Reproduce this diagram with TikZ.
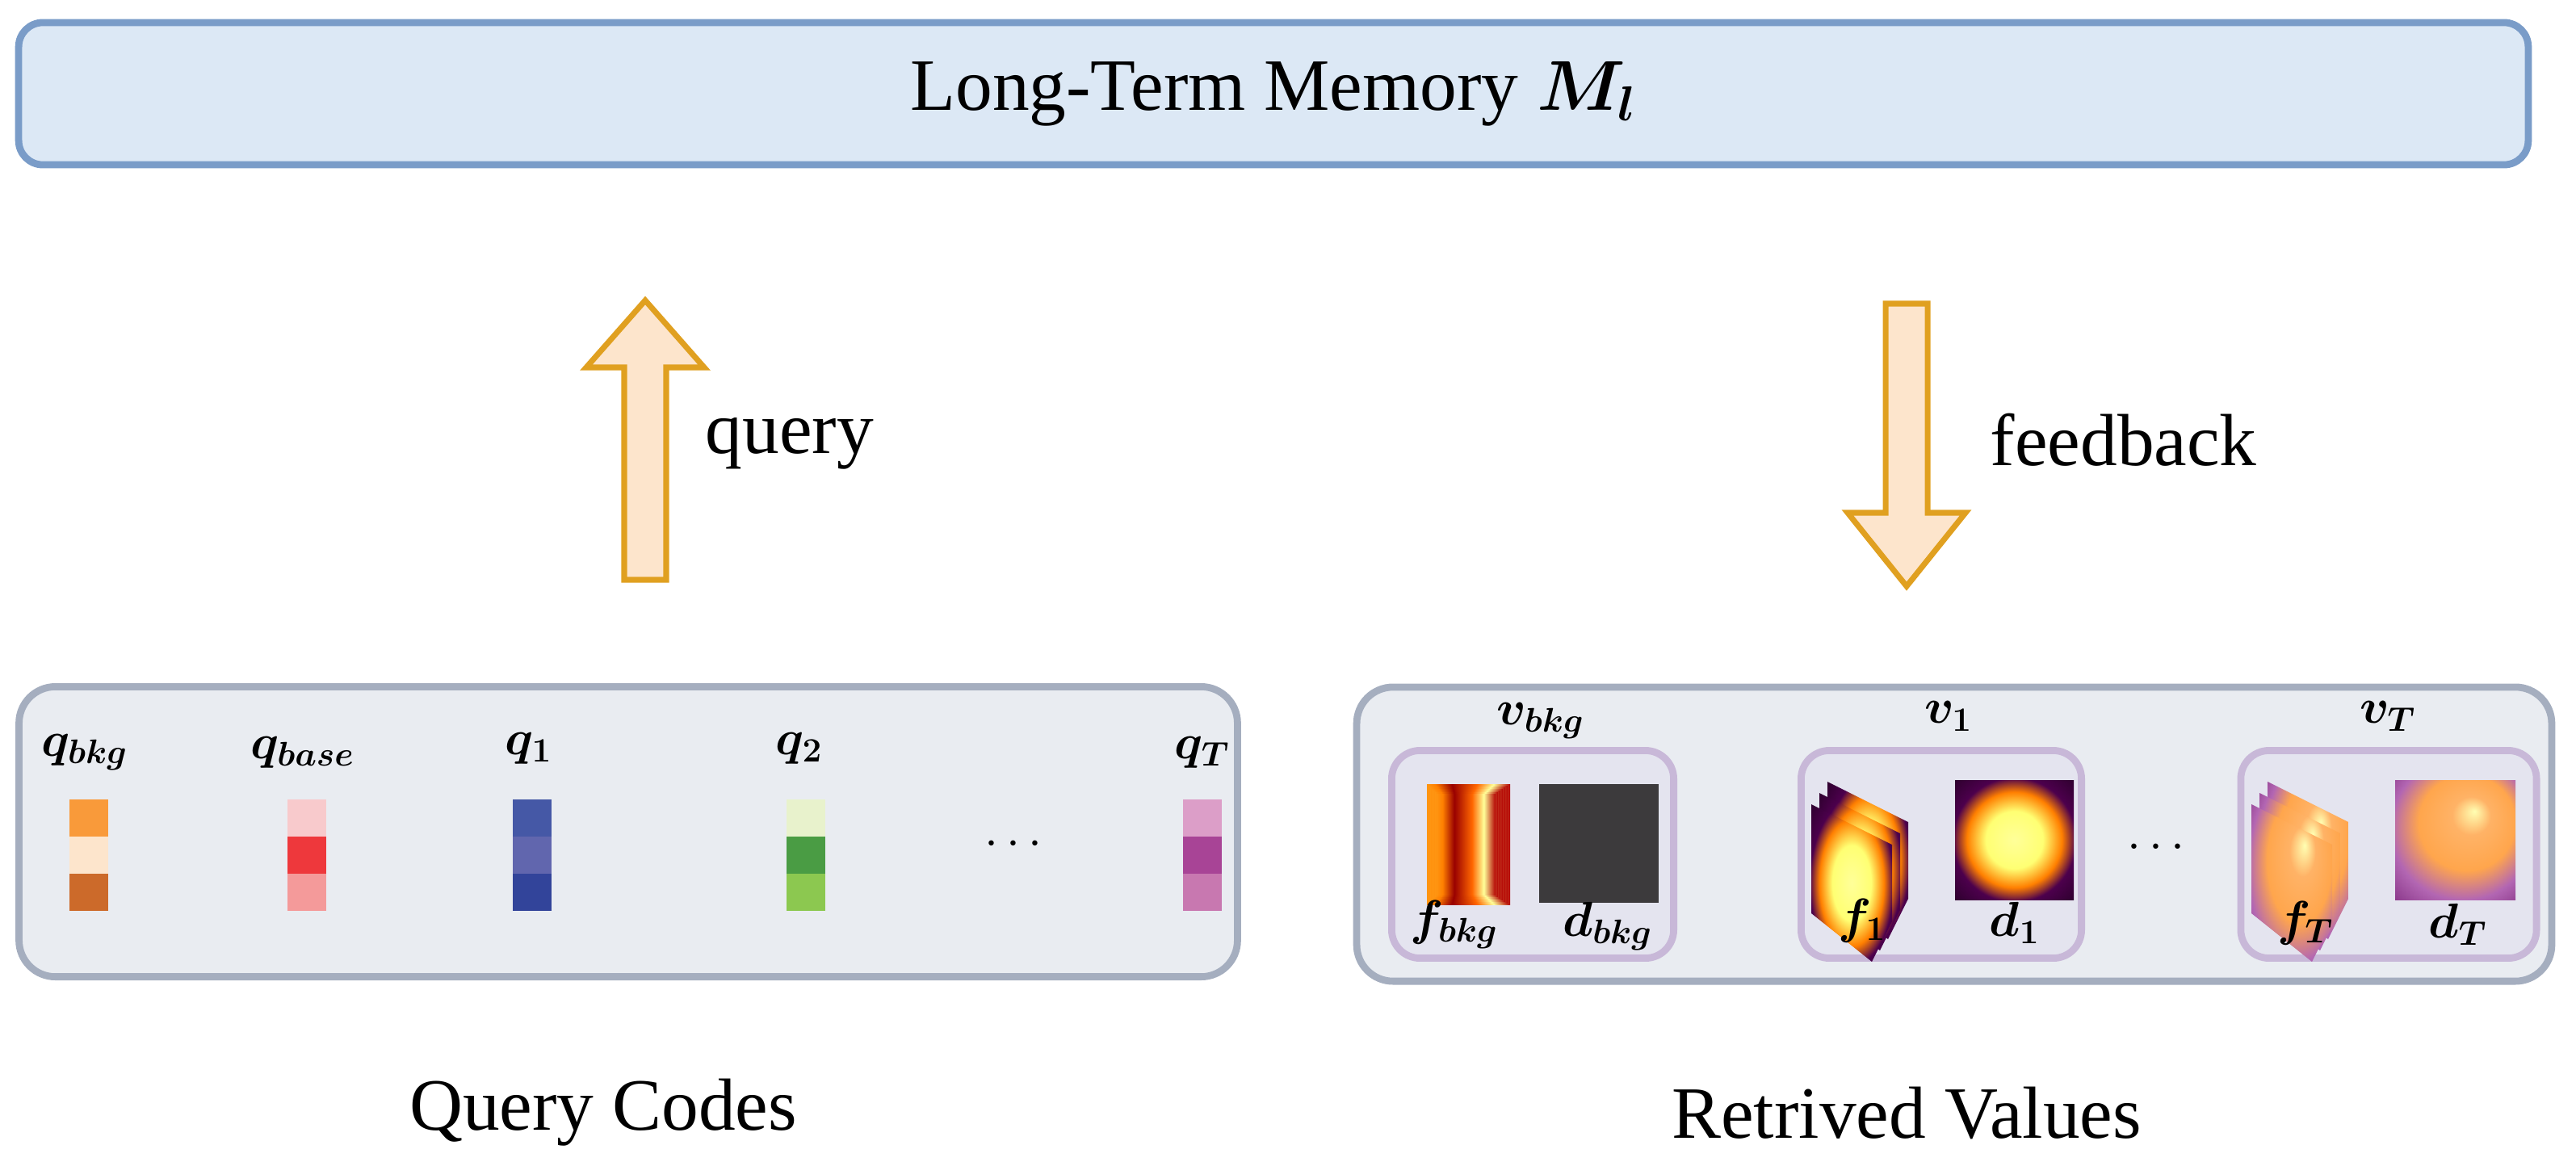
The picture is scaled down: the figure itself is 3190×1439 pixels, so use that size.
\documentclass[tikz,border=0pt]{standalone}
\usepackage{fontspec}
\setmainfont{Liberation Serif}
\usepackage{bm}
\usetikzlibrary{positioning}
\definecolor{memfill}{HTML}{DCE8F5}
\definecolor{memline}{HTML}{7A9CC8}
\definecolor{boxfill}{HTML}{E9ECF1}
\definecolor{boxline}{HTML}{A5AEBF}
\definecolor{subfill}{HTML}{E4E4EF}
\definecolor{subline}{HTML}{C8B8D8}
\definecolor{arrfill}{HTML}{FDE5CC}
\definecolor{arrline}{HTML}{E0A020}
\definecolor{darkmap}{HTML}{3C3A3C}
\pgfdeclareradialshading{heatA}{\pgfpoint{0bp}{0bp}}{color(0bp)=(yellow!40!white); color(12bp)=(yellow!55!white); color(20bp)=(orange); color(26bp)=(violet!60!black); color(50bp)=(black)}
\pgfdeclareradialshading{heatB}{\pgfpoint{8bp}{12bp}}{color(0bp)=(yellow!30!white); color(8bp)=(orange!60!white); color(20bp)=(orange!70!white); color(30bp)=(violet!60); color(50bp)=(violet!70!black)}
\pgfdeclarehorizontalshading{stripes}{100bp}{color(0bp)=(yellow!60); color(30bp)=(orange); color(40bp)=(red!60!black); color(55bp)=(orange!80!red); color(65bp)=(yellow!40); color(75bp)=(red!70!black); color(90bp)=(orange); color(100bp)=(yellow!60)}
\tikzset{
  x=0.01cm, y=-0.01cm,
  bigbox/.style={draw=boxline, line width=2.5pt, fill=boxfill, rounded corners=0.45cm},
  subbox/.style={draw=subline, line width=2.5pt, fill=subfill, rounded corners=0.35cm},
  txt/.style={font=\fontsize{26}{30}\selectfont, inner sep=0},
  lbl/.style={font=\fontsize{17}{20}\selectfont, inner sep=0},
  blockarrow/.style={draw=arrline, line width=2pt, fill=arrfill, line join=miter},
  cell/.style={minimum width=0.48cm, minimum height=0.46cm, inner sep=0, outer sep=0},
}
% one code bar: name, x, three hex colours
\newcommand{\codebar}[5]{%
  \definecolor{#1x}{HTML}{#3}\definecolor{#1y}{HTML}{#4}\definecolor{#1z}{HTML}{#5}%
  \node[cell, fill=#1x] (#1a) at (#2,1013) {};
  \node[cell, fill=#1y, below=0pt of #1a] (#1b) {};
  \node[cell, fill=#1z, below=0pt of #1b] (#1c) {};}
% a skewed stack of feature sheets
\newcommand{\sheets}[3]{%
  \foreach \k in {2,1,0}{
    \shade[shading=#3] ({#1+\k*10},{#2-\k*14}) -- ++(100,50) -- ++(0,95) -- ++(-25,50) -- ++(-75,-60) -- cycle;}}
\begin{document}
\begin{tikzpicture}
\useasboundingbox (0,0) rectangle (3190,1439);

% memory
\node[draw=memline, line width=2.5pt, fill=memfill, rounded corners=0.3cm,
      minimum width=31.06cm, minimum height=1.76cm, txt] (mem) at (1577,116) {Long-Term Memory $\bm{M_l}$};

% block arrows
\coordinate (up) at (799,372);
\draw[blockarrow] (up) -- ++(73,83) -- ++(-47,0) -- ++(0,263) -- ++(-52,0) -- ++(0,-263) -- ++(-47,0) -- cycle;
\node[txt, anchor=west] (query) at (873,549) {query};
\coordinate (down) at (2361,726);
\draw[blockarrow] (down) -- ++(73,-91) -- ++(-47,0) -- ++(0,-259) -- ++(-52,0) -- ++(0,259) -- ++(-47,0) -- cycle;
\node[txt, anchor=west] (feedback) at (2464,545) {feedback};

% query codes
\node[bigbox, minimum width=15.08cm, minimum height=3.59cm] (qbox) at (778,1030) {};
\codebar{qb}{110}{F99A3A}{FDE5CC}{CC6A2A}
\codebar{qs}{380}{F8CACC}{EE383C}{F49A9A}
\codebar{qo}{659}{4558A6}{6166AE}{32449A}
\codebar{qt}{998}{E8F2CC}{4A9C44}{8CC850}
\codebar{qT}{1489}{DC9EC8}{A84496}{C878B0}
\node[lbl] at (105,932) {$\bm{q_{bkg}}$};
\node[lbl] at (375,932) {$\bm{q_{base}}$};
\node[lbl] at (655,927) {$\bm{q_1}$};
\node[lbl] at (990,927) {$\bm{q_2}$};
\node[lbl] at (1489,932) {$\bm{q_T}$};
\node[lbl] at (1255,1046) {$\cdots$};
\node[txt] (qcodes) at (747,1378) {Query Codes};

% retrieved values
\node[bigbox, minimum width=14.79cm, minimum height=3.64cm] (vbox) at (2420,1033) {};
\node[subbox, minimum width=3.49cm, minimum height=2.57cm] (vb) at (1898,1058) {};
\node[subbox, minimum width=3.47cm, minimum height=2.57cm] (vo) at (2404,1058) {};
\node[subbox, minimum width=3.66cm, minimum height=2.57cm] (vT) at (2958,1058) {};
\node[lbl] at (1908,893) {$\bm{v_{bkg}}$};
\node[lbl] at (2413,887) {$\bm{v_1}$};
\node[lbl] at (2957,887) {$\bm{v_T}$};

\foreach \i in {0,...,6}{
  \shade[shading=stripes] ({1767+\i*2},{971+\i*2}) rectangle ({1870-\i*3},{1120-\i*2});}
\fill[darkmap] (1906,971) rectangle (2054,1118);
\sheets{2243}{996}{heatA}
\shade[shading=heatA] (2421,966) rectangle (2568,1114);
\sheets{2788}{996}{heatB}
\shade[shading=heatB] (2966,966) rectangle (3115,1114);

\node[lbl] at (1801,1145) {$\bm{f_{bkg}}$};
\node[lbl] at (1991,1147) {$\bm{d_{bkg}}$};
\node[lbl] at (2306,1140) {$\bm{f_1}$};
\node[lbl] at (2495,1143) {$\bm{d_1}$};
\node[lbl] at (2855,1143) {$\bm{f_T}$};
\node[lbl] at (3044,1145) {$\bm{d_T}$};
\node[lbl] at (2670,1050) {$\cdots$};
\node[txt] (vals) at (2361,1378) {Retrived Values};
\end{tikzpicture}
\end{document}
